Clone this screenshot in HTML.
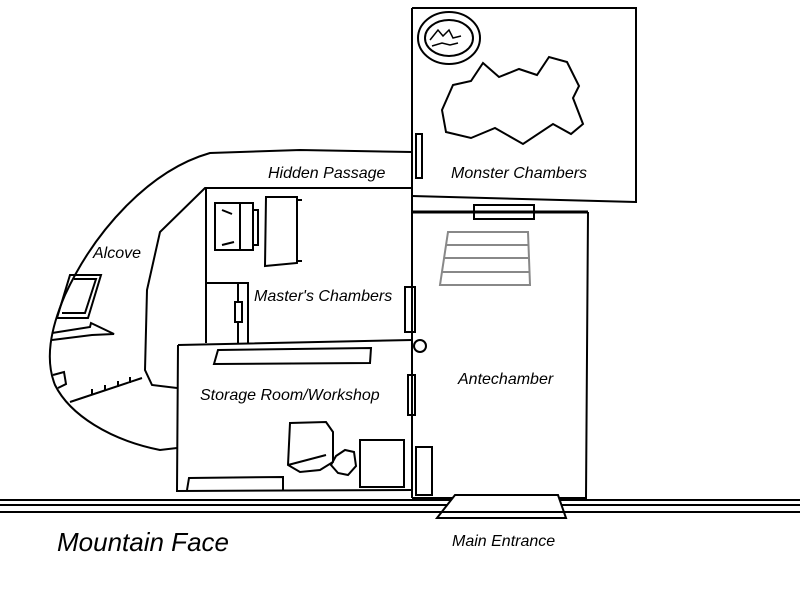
<!DOCTYPE html>
<html><head><style>body{margin:0;background:#fff}svg{display:block}text{font-family:"Liberation Sans",sans-serif;font-style:italic;font-size:16px;fill:#000}</style></head>
<body>
<svg width="800" height="600" viewBox="0 0 800 600" fill="none" stroke="#000" stroke-width="2">
<!-- Monster chambers -->
<path d="M412 8 L636 8 L636 202 L412 196"/>
<ellipse cx="449" cy="38" rx="31" ry="26"/>
<ellipse cx="449" cy="38" rx="24" ry="18"/>
<path d="M430 40 l8-10 5 6 6-6 4 8 8-2 M432 46 l10-3 8 2 8-2" stroke-width="1.5"/>
<path d="M453 85 l18-4 12-18 16 14 20-8 18 6 12-18 18 5 12 24 -6 12 10 26 -12 10 -18-10 -30 20 -28-16 -24 10 -25-6 -4-22z"/>
<!-- Antechamber -->
<path d="M412 212 L588 212" stroke-width="3"/>
<path d="M588 212 L586 498 L412 498"/>
<rect x="474" y="205" width="60" height="14"/>
<g stroke="#888"><path d="M448 232 L528 232 L530 285 L440 285 Z M446 245 L528 245 M444 258 L529 258 M442 272 L530 272"/></g>
<!-- wall x=412 -->
<path d="M412 8 L412 498"/>
<rect x="416" y="134" width="6" height="44"/>
<rect x="405" y="287" width="10" height="45"/>
<rect x="408" y="375" width="7" height="40"/>
<circle cx="420" cy="346" r="6"/>
<rect x="416" y="447" width="16" height="48"/>
<!-- passage -->
<path d="M412 152 L300 150 L210 153 C150 170 95 230 65 295 C50 330 45 360 55 385 C70 415 110 440 160 450 L177 448"/>
<path d="M412 188 L205 188 L160 232 L147 290 L145 370 L152 385 L177 388"/>
<!-- master -->
<path d="M206 188 L206 343"/>
<path d="M205 283 L248 283 L248 343 M238 283 L238 343"/>
<rect x="235" y="302" width="7" height="20" fill="#fff"/>
<rect x="215" y="203" width="38" height="47"/><path d="M240 203 L240 250 M253 210 L258 210 L258 245 L253 245 M222 210 l10 4 M222 245 l12-3"/>
<path d="M266 197 L297 197 L297 263 L265 266 Z M297 200 l5 0 M297 261 l5 0"/>
<!-- storage -->
<path d="M178 345 L412 340 M178 345 L177 491 L412 490"/>
<path d="M218 350 L371 348 L370 363 L214 364 Z"/>
<path d="M290 423 L326 422 L333 432 L333 462 L320 470 L300 472 L288 465 Z M288 465 L326 455"/>
<path d="M336 456 L345 450 L354 452 L356 466 L348 475 L338 473 L331 465 Z"/>
<rect x="360" y="440" width="44" height="47"/>
<path d="M187 490 L189 478 L283 477 L283 490"/>
<!-- alcove -->
<path d="M70 275 L101 275 L88 318 L57 318 Z M74 279 L96 279 L85 313 L62 313"/>
<path d="M52 333 L90 327 L91 323 L114 334 L92 335 L52 340"/>
<path d="M53 375 L64 372 L66 384 L58 388"/>
<path d="M70 402 L142 378 M92 395 l0 -6 M105 391 l0 -6 M118 387 l0 -6 M130 383 l0 -6"/>
<!-- ground -->
<path d="M0 500 L800 500 M0 505 L800 505 M0 512 L800 512"/>
<path d="M437 518 L455 495 L558 495 L566 518 Z" fill="#fff"/>
<path d="M0 512 L800 512" />
<g stroke="none">
<text x="268" y="178">Hidden Passage</text>
<text x="451" y="178">Monster Chambers</text>
<text x="93" y="258">Alcove</text>
<text x="254" y="301">Master's Chambers</text>
<text x="458" y="384">Antechamber</text>
<text x="200" y="400">Storage Room/Workshop</text>
<text x="452" y="546">Main Entrance</text>
<text x="57" y="551" style="font-size:26px">Mountain Face</text>
</g>
</svg>
</body></html>
